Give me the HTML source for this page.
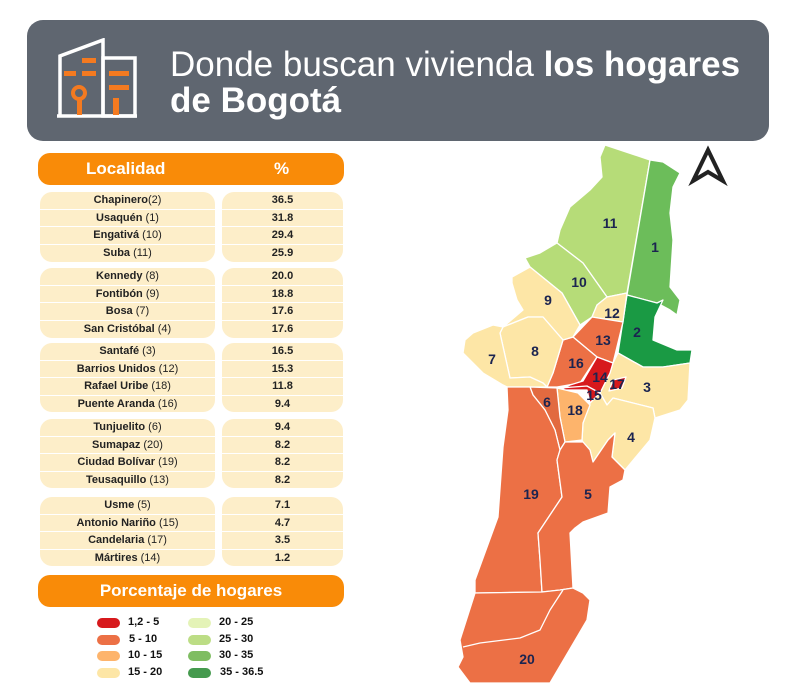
<!DOCTYPE html>
<html><head><meta charset="utf-8"><style>
*{margin:0;padding:0;box-sizing:border-box}
body{width:800px;height:700px;background:#fff;position:relative;overflow:hidden;font-family:"Liberation Sans",sans-serif}
.hdr{position:absolute;left:27px;top:20px;width:742px;height:121px;background:#5f6670;border-radius:16px}
.t1{position:absolute;left:143px;top:25px;color:#fff;font-size:35px;white-space:nowrap}
.t2{position:absolute;left:143px;top:61px;color:#fff;font-size:35px;font-weight:bold}
.bar{position:absolute;left:38px;width:306px;background:#f98b08;border-radius:12px;color:#fff;font-weight:bold}
.grp{position:absolute;background:#fdeec9;border-radius:12px;overflow:hidden}
.row{height:17.5px;line-height:17.5px;font-size:11px;font-weight:bold;color:#222;text-align:center;border-bottom:1.5px solid #fff}
.row:last-child{border-bottom:none}
.row span{font-weight:normal}
.lg{position:absolute;width:23px;height:10px;border-radius:5px}
.lt{position:absolute;font-size:11px;font-weight:bold;color:#111}
</style></head><body>
<div class="hdr">
<svg style="position:absolute;left:30px;top:18px" width="84" height="82" viewBox="0 0 84 82">
<g fill="none" stroke="#fff" stroke-width="3.5"><polyline points="3,78 3,18 46,2 46,78"/><rect x="46" y="20" width="32" height="58"/><line x1="0" y1="78" x2="80" y2="78"/></g>
<g fill="#f47a20"><rect x="25" y="20" width="14" height="5"/><rect x="7" y="33" width="12" height="5"/><rect x="25" y="33" width="14" height="5"/><rect x="52" y="33" width="20" height="5"/><rect x="52" y="47" width="20" height="5"/><rect x="56" y="60" width="6" height="17"/><circle cx="22" cy="55" r="6" fill="none" stroke="#f47a20" stroke-width="4"/><rect x="20" y="60" width="5" height="17"/></g>
</svg>
<div class="t1">Donde buscan vivienda <b>los hogares</b></div>
<div class="t2">de Bogotá</div>
</div>

<div class="bar" style="top:153px;height:32px;font-size:17px;line-height:32px"><span style="position:absolute;left:48px">Localidad</span><span style="position:absolute;left:236px">%</span></div>

<div class="grp" style="left:40px;top:192px;width:175px;height:70px"><div class="row">Chapinero<span>(2)</span></div><div class="row">Usaquén <span>(1)</span></div><div class="row">Engativá <span>(10)</span></div><div class="row">Suba <span>(11)</span></div></div>
<div class="grp" style="left:222px;top:192px;width:121px;height:70px"><div class="row">36.5</div><div class="row">31.8</div><div class="row">29.4</div><div class="row">25.9</div></div>

<div class="grp" style="left:40px;top:268px;width:175px;height:70px"><div class="row">Kennedy <span>(8)</span></div><div class="row">Fontibón <span>(9)</span></div><div class="row">Bosa <span>(7)</span></div><div class="row">San Cristóbal <span>(4)</span></div></div>
<div class="grp" style="left:222px;top:268px;width:121px;height:70px"><div class="row">20.0</div><div class="row">18.8</div><div class="row">17.6</div><div class="row">17.6</div></div>

<div class="grp" style="left:40px;top:343px;width:175px;height:69px"><div class="row">Santafé <span>(3)</span></div><div class="row">Barrios Unidos <span>(12)</span></div><div class="row">Rafael Uribe <span>(18)</span></div><div class="row">Puente Aranda <span>(16)</span></div></div>
<div class="grp" style="left:222px;top:343px;width:121px;height:69px"><div class="row">16.5</div><div class="row">15.3</div><div class="row">11.8</div><div class="row">9.4</div></div>

<div class="grp" style="left:40px;top:419px;width:175px;height:69px"><div class="row">Tunjuelito <span>(6)</span></div><div class="row">Sumapaz <span>(20)</span></div><div class="row">Ciudad Bolívar <span>(19)</span></div><div class="row">Teusaquillo <span>(13)</span></div></div>
<div class="grp" style="left:222px;top:419px;width:121px;height:69px"><div class="row">9.4</div><div class="row">8.2</div><div class="row">8.2</div><div class="row">8.2</div></div>

<div class="grp" style="left:40px;top:497px;width:175px;height:69px"><div class="row">Usme <span>(5)</span></div><div class="row">Antonio Nariño <span>(15)</span></div><div class="row">Candelaria <span>(17)</span></div><div class="row">Mártires <span>(14)</span></div></div>
<div class="grp" style="left:222px;top:497px;width:121px;height:69px"><div class="row">7.1</div><div class="row">4.7</div><div class="row">3.5</div><div class="row">1.2</div></div>

<div class="bar" style="top:575px;height:32px;font-size:17px;line-height:32px;text-align:center">Porcentaje de hogares</div>

<div class="lg" style="left:97px;top:618px;background:#d7191c"></div><div class="lt" style="left:128px;top:616px">1,2 - 5</div>
<div class="lg" style="left:97px;top:635px;background:#ec7045"></div><div class="lt" style="left:129px;top:633px">5 - 10</div>
<div class="lg" style="left:97px;top:651px;background:#fdb46c"></div><div class="lt" style="left:128px;top:649px">10 - 15</div>
<div class="lg" style="left:97px;top:668px;background:#fde6a6"></div><div class="lt" style="left:128px;top:666px">15 - 20</div>
<div class="lg" style="left:188px;top:618px;background:#e4f3b7"></div><div class="lt" style="left:219px;top:616px">20 - 25</div>
<div class="lg" style="left:188px;top:635px;background:#bcdd85"></div><div class="lt" style="left:219px;top:633px">25 - 30</div>
<div class="lg" style="left:188px;top:651px;background:#7fbd62"></div><div class="lt" style="left:219px;top:649px">30 - 35</div>
<div class="lg" style="left:188px;top:668px;background:#459a4e"></div><div class="lt" style="left:220px;top:666px">35 - 36.5</div>

<svg style="position:absolute;left:0;top:0" width="800" height="700" viewBox="0 0 800 700">
<g stroke="#fff" stroke-width="1.3" stroke-linejoin="round">
<polygon fill="#b6dc78" points="557,243 560,230 570,207 590,190 602,177 600,157 605,145 650,160 627,293 607,297 583,263"/>
<polygon fill="#b6dc78" points="525,258 540,253 557,243 583,263 607,297 597,305 592,317 580,325 562,293 530,267"/>
<polygon fill="#6cbd5a" points="650,160 663,162 680,173 673,187 670,213 673,240 670,287 680,300 677,315 670,310 657,303 627,295"/>
<polygon fill="#1a9a44" points="627,295 657,303 663,300 655,317 653,340 677,350 692,350 690,363 663,367 643,367 618,353"/>
<polygon fill="#fde6a6" points="597,305 607,297 627,293 623,322 592,317"/>
<polygon fill="#ec7045" points="592,317 623,322 615,355 613,363 597,357 573,337"/>
<polygon fill="#ec7045" points="573,337 597,357 580,383 557,387 547,387 553,373 563,340"/>
<polygon fill="#fde6a6" points="512,277 530,267 562,293 580,325 573,337 563,340 543,317 528,317 503,327 523,310 517,300 512,283"/>
<polygon fill="#fde6a6" points="500,333 503,327 528,317 543,317 563,340 553,373 547,387 543,383 530,377 510,378"/>
<polygon fill="#fde6a6" points="463,353 465,340 473,333 493,325 503,327 500,333 510,378 530,377 543,383 547,387 507,387 503,385 483,373"/>
<polygon fill="#fde6a6" points="618,353 643,367 663,367 690,363 688,400 680,410 655,418 653,408 613,398 607,405 600,393 610,373 613,363"/>
<polygon fill="#d7191c" points="597,357 613,363 610,373 600,393 590,403 587,390 560,390 570,385 583,381"/>
<polyline fill="none" points="560,388 587,386 600,393"/>
<polygon fill="#d7191c" points="613,380 626,377 622,388 609,391"/>
<polygon fill="#fde6a6" points="590,403 600,393 607,405 613,398 653,408 655,418 650,440 625,470 612,457 615,433 608,440 593,462 590,450 583,442 582,440 583,423"/>
<polygon fill="#fdb46c" points="557,388 578,393 590,405 583,423 582,440 565,442 560,417"/>
<polygon fill="#e26a40" points="530,387 557,388 560,417 565,442 560,450 555,430 545,410 533,395"/>
<polygon fill="#ec7045" points="507,387 530,387 533,395 545,410 555,430 560,450 557,460 562,497 538,533 540,560 542,592 475,593 475,580 498,517 503,447 508,410"/>
<polygon fill="#ec7045" points="560,450 565,442 583,442 590,450 593,462 608,440 615,433 612,457 625,470 623,480 610,487 608,513 583,522 575,528 570,533 573,588 560,590 542,592 540,560 538,533 562,497 557,460"/>
<polygon fill="#ec7045" points="475,593 542,592 560,590 573,588 583,593 590,600 587,620 550,683 470,683 458,667 463,657 460,640"/>
<polyline fill="none" points="463,647 480,643 520,638 540,630 550,610 563,590"/>
</g>
<polygon points="708,150 693,181 708,172 723,181" fill="none" stroke="#222" stroke-width="4" stroke-linejoin="miter"/>
<g fill="#1b2450" font-family="Liberation Sans, sans-serif" font-weight="bold" font-size="14" text-anchor="middle">
<text x="610" y="228">11</text><text x="655" y="252">1</text><text x="579" y="287">10</text><text x="548" y="305">9</text>
<text x="612" y="318">12</text><text x="637" y="337">2</text><text x="603" y="345">13</text><text x="492" y="364">7</text>
<text x="535" y="356">8</text><text x="576" y="368">16</text><text x="600" y="382">14</text><text x="617" y="389">17</text>
<text x="594" y="400">15</text><text x="647" y="392">3</text><text x="547" y="407">6</text><text x="575" y="415">18</text>
<text x="631" y="442">4</text><text x="531" y="499">19</text><text x="588" y="499">5</text><text x="527" y="664">20</text>
</g>
</svg>
</body></html>
